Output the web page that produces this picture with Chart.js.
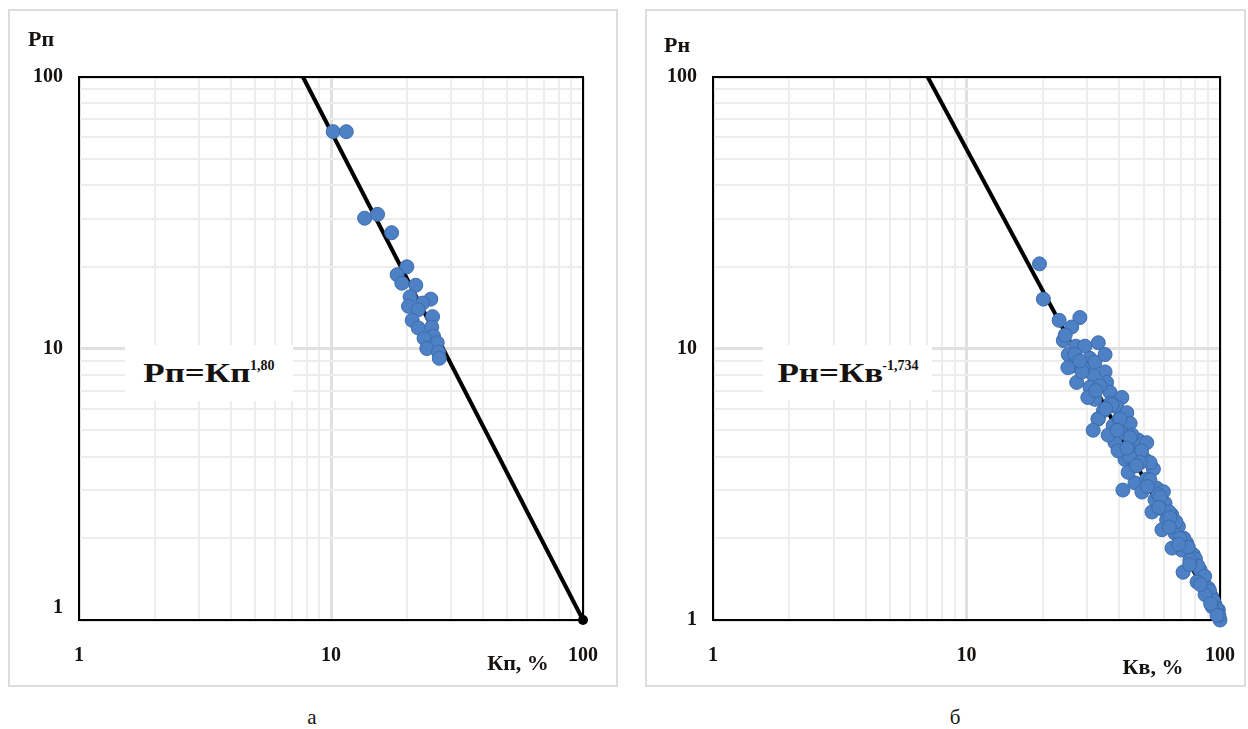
<!DOCTYPE html>
<html>
<head>
<meta charset="utf-8">
<script src="https://cdn.jsdelivr.net/npm/chart.js@4.4.0/dist/chart.umd.min.js"></script>
<style>
  body {
    margin: 0;
    width: 1248px;
    height: 729px;
    position: relative;
    overflow: hidden;
    background: #fff;
    font-family: "Liberation Serif", "Times New Roman", "DejaVu Serif", serif;
    color: #151210;
  }
  .panel {
    position: absolute;
    border: 2px solid #dcdcdc;
    box-sizing: border-box;
  }
  .panel canvas { position: absolute; left: 0; top: 0; }
  .lbl {
    position: absolute;
    font-weight: bold;
    white-space: nowrap;
    transform: translate(-50%, -50%);
  }
  .eq {
    position: absolute;
    background: #fff;
    font-weight: bold;
    white-space: nowrap;
    display: flex;
    align-items: center;
    justify-content: center;
  }
  .eq .main { display: inline-block; font-size: 28px; transform: scaleX(1.25); margin: 0 11px 0 11px; }
  .eq sup { font-size: 14px; position: relative; top: -7px; vertical-align: baseline; margin-left: -1px; }
  .cap { position: absolute; font-size: 21px; transform: translate(-50%, -50%); }
</style>
</head>
<body>

<div class="panel" style="left:8px; top:9px; width:610px; height:678px;">
  <canvas id="chartA"></canvas>
</div>
<div class="panel" style="left:645px; top:9px; width:601px; height:678px;">
  <canvas id="chartB"></canvas>
</div>

<div class="lbl" style="left:41px;  top:39px;  font-size:22px;">Рп</div>
<div class="lbl" style="left:518px; top:663px; font-size:22px;">Кп, %</div>
<div class="lbl" style="left:677px; top:45px;  font-size:22px;">Рн</div>
<div class="lbl" style="left:1153px; top:667px; font-size:22px;">Кв, %</div>

<div class="eq" style="left:125px; top:345px; width:168px; height:56px;"><span class="main">Рп=Кп</span><sup>1,80</sup></div>
<div class="eq" style="left:763px; top:345px; width:169px; height:55px;"><span class="main">Рн=Кв</span><sup>-1,734</sup></div>

<div class="cap" style="left:312px; top:717px;">а</div>
<div class="cap" style="left:955px; top:717px;">б</div>

<script>
/* ================================================
   DATA
================================================ */

// а: porosity factor vs porosity
const kpA = [10.2, 11.5, 13.6, 15.3, 17.4, 20.0, 18.3, 19.1, 21.7, 20.6, 24.9, 23.1,
             20.3, 22.2, 25.3, 21.0, 22.2, 25.1, 25.5, 23.4, 26.4, 24.0, 26.7, 26.9];
const rpA = [62.9, 62.9, 30.2, 31.2, 26.7, 20.0, 18.7, 17.4, 17.1, 15.5, 15.2, 14.7,
             14.3, 13.9, 13.1, 12.7, 11.9, 12.0, 11.1, 10.9, 10.5, 10.0,  9.7,  9.2];

// б: resistivity index vs water saturation
const kvB = [19.4, 20.1, 23.2, 28.0, 26.0, 24.1, 27.0, 29.3, 33.1, 25.2, 30.7, 26.0,
             28.9, 35.2, 31.6, 27.2, 35.7, 30.7, 36.8, 41.0, 32.1, 34.7, 39.1, 42.9,
             33.1, 44.2, 37.9, 41.0, 47.6, 38.5, 51.4, 43.5, 48.3, 42.2, 50.6, 46.2,
             54.6, 46.2, 51.4, 56.3, 59.8, 55.4, 60.7, 58.0, 64.5, 61.6, 68.5, 66.4,
             73.9, 70.6, 78.5, 77.3, 83.4, 85.9, 89.9, 92.7, 95.5, 98.5, 100,
             37.0, 40.0, 45.0, 49.0, 53.0, 44.0, 57.0, 63.0, 67.0, 72.0, 75.0, 80.0,
             82.0, 87.0, 91.0, 94.0, 97.0, 99.0,
             24.5, 26.8, 28.6, 32.1, 33.6, 30.1, 37.5, 33.0, 40.3, 36.2, 44.2, 39.6,
             48.4, 43.4, 52.9, 49.2, 58.0, 53.9, 63.5, 59.0, 69.5, 64.7, 76.1, 71.5,
             81.2, 87.3, 93.0, 97.3, 25.1, 35.2, 31.6, 41.4,
             28.0, 32.4, 35.4, 39.3, 42.9, 46.8, 51.8, 57.3, 63.1, 68.7, 75.9, 83.7, 91.8];
const rnB = [20.5, 15.2, 12.7, 13.0, 12.0, 10.7, 10.2, 10.2, 10.5,  9.5,  9.2,  8.6,
              8.5,  8.2,  8.0,  7.5,  7.5,  7.2,  6.9,  6.6,  6.5,  5.9,  6.1,  5.8,
              5.5,  5.3,  5.2,  4.9,  4.6,  4.5,  4.5,  4.3,  4.1,  3.9,  3.9,  3.7,
              3.6,  3.2,  3.3, 3.06, 2.97, 2.77, 2.69, 2.58, 2.44, 2.34, 2.21, 2.09,
             1.92, 1.81, 1.74, 1.62, 1.53, 1.40, 1.31, 1.22, 1.14, 1.09, 1.00,
              6.3,  5.5,  4.8,  4.2,  3.8,  4.0,  2.90, 2.50, 2.30, 2.00, 1.85, 1.68,
             1.58, 1.45, 1.28, 1.18, 1.10, 1.04,
             11.2,  9.5,  8.2,  8.9,  7.3,  6.6,  6.2,  5.5,  5.5,  4.8,  4.7,  4.2,
              3.8,  3.5, 3.28, 2.96, 2.84, 2.50, 2.38, 2.15, 2.00, 1.84, 1.66, 1.50,
             1.38, 1.24, 1.12, 1.04,  8.5,  9.5,  5.0, 3.01,
              9.0,  7.0,  6.0,  5.0,  4.3,  3.7,  3.1,  2.6,  2.2,  1.9,  1.6, 1.35, 1.15];

// fitted power laws, end points on the frame
const fitKA = [7.74, 100];
const fitPA = [100, 1];
const fitKB = [7.03, 100];
const fitPB = [100, 1];

// log grid and labelled decades
const gridTicks  = [1, 2, 3, 4, 5, 6, 7, 8, 9, 10, 20, 30, 40, 50, 60, 70, 80, 90, 100];
const tickLabels = [1, 10, 100];

/* ================================================
   COLORS
================================================ */

const C = {
  text:      '#151210',
  gridMinor: '#ededed',
  gridMajor: '#e0e0e0',
  frame:     '#000000',
  point:     '#4d80c4',
  pointEdge: '#3d6cab',
  fit:       '#000000',
};

const TICK_FONT = { family: '"Liberation Serif", "Times New Roman", "DejaVu Serif", serif', size: 20, weight: 'bold', lineHeight: 1.2 };

/* ================================================
   FRAME PLUGIN
================================================ */

const framePlugin = {
  id: 'frame',
  beforeDatasetsDraw(chart) {
    const a = chart.chartArea;
    const ctx = chart.ctx;
    ctx.save();
    ctx.strokeStyle = C.frame;
    ctx.lineWidth = 2;
    ctx.strokeRect(a.left, a.top, a.right - a.left, a.bottom - a.top);
    ctx.restore();
  },
};

/* ================================================
   CHART BUILDER
================================================ */

function pairs(xs, ys) {
  return xs.map((x, i) => ({ x, y: ys[i] }));
}

function buildLogChart(canvasId, w, h, box, xs, ys, fitX, fitY, opts) {
  const canvas = document.getElementById(canvasId);
  canvas.width = w;
  canvas.height = h;
  canvas.style.width = w + 'px';
  canvas.style.height = h + 'px';

  const isMajor = v => tickLabels.includes(v);
  const gridColor = ctx => isMajor(ctx.tick && ctx.tick.value) ? C.gridMajor : C.gridMinor;
  const gridWidth = ctx => isMajor(ctx.tick && ctx.tick.value) ? 3 : 2;

  return new Chart(canvas.getContext('2d'), {
    type: 'scatter',
    data: {
      datasets: [
        {
          data: pairs(xs, ys),
          backgroundColor: C.point,
          borderColor:     C.pointEdge,
          borderWidth:     1,
          pointRadius:     7,
          clip:            false,
        },
        {
          data: pairs(fitX, fitY),
          showLine:        true,
          borderColor:     C.fit,
          borderWidth:     4,
          pointRadius:     [0, opts.endDot ? 5 : 0],
          pointBackgroundColor: C.fit,
          pointBorderWidth: 0,
          clip:            false,
        },
      ],
    },
    options: {
      responsive: false,
      animation:  false,
      events:     [],
      layout: { padding: { top: box.top, right: box.right, left: 0, bottom: 0 } },
      plugins: {
        legend:  { display: false },
        tooltip: { enabled: false },
      },
      scales: {
        x: {
          type: 'logarithmic',
          min: 1, max: 100,
          afterBuildTicks: s => { s.ticks = gridTicks.map(v => ({ value: v })); },
          afterFit: s => { s.height = box.xAxis; },
          ticks: {
            autoSkip: false, maxRotation: 0,
            color: C.text, font: TICK_FONT, padding: 0,
            callback: v => isMajor(v) ? String(v) : '',
          },
          // invisible tick marks push the labels down without widening the side padding
          grid: { color: gridColor, lineWidth: gridWidth, drawTicks: true, tickLength: 24, tickColor: 'rgba(0,0,0,0)' },
          border: { display: false },
        },
        y: {
          type: 'logarithmic',
          min: 1, max: 100,
          afterBuildTicks: s => { s.ticks = gridTicks.map(v => ({ value: v })); },
          afterFit: s => { s.width = box.yAxis; },
          ticks: {
            autoSkip: false,
            color: C.text, font: TICK_FONT, padding: opts.yPad,
            callback: v => !isMajor(v) ? '' : (v === 1 && opts.liftOne ? ['1', ''] : String(v)),
          },
          grid: { color: gridColor, lineWidth: gridWidth, drawTicks: false },
          border: { display: false },
        },
      },
    },
    plugins: [framePlugin],
  });
}

buildLogChart('chartA', 606, 674,
  { top: 66, right: 33, yAxis: 69, xAxis: 65 },
  kpA, rpA, fitKA, fitPA, { endDot: true, liftOne: true, yPad: 16 });

buildLogChart('chartB', 597, 674,
  { top: 66, right: 24, yAxis: 66, xAxis: 65 },
  kvB, rnB, fitKB, fitPB, { endDot: false, liftOne: false, yPad: 16 });
</script>
</body>
</html>
